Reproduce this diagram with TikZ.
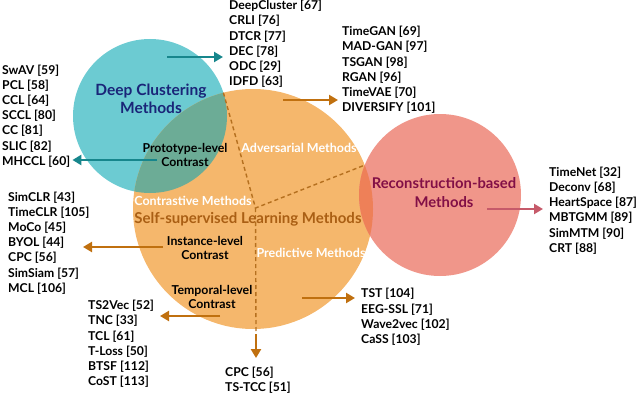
\documentclass[tikz,border=0pt]{standalone}
\usepackage{fontspec}
\setmainfont{Lato}
\usepackage{tikz}
\usepackage{xcolor}
\usetikzlibrary{arrows.meta,positioning}
\definecolor{dcfill}{HTML}{6CCBD2}
\definecolor{sslfill}{HTML}{F5B76C}
\definecolor{recfill}{HTML}{F0968A}
\definecolor{dcssl}{HTML}{6CAC96}
\definecolor{sslrec}{HTML}{EE8058}
\definecolor{dcline}{HTML}{17868C}
\definecolor{sslline}{HTML}{C0700F}
\definecolor{recline}{HTML}{C65A6A}
\definecolor{guidecol}{HTML}{B5701F}
\definecolor{dctext}{HTML}{1A2578}
\definecolor{ssltext}{HTML}{AA5F14}
\definecolor{rectext}{HTML}{820F46}

\begin{document}
\begin{tikzpicture}[x=1pt,y=-1pt,>={Triangle[length=9pt,width=10pt]},
    blob/.style={circle,inner sep=0pt},
    head/.style={align=center,inner sep=0pt,font=\bfseries\fontsize{15.5}{17.5}\selectfont},
    tag/.style={align=center,inner sep=0pt,font=\bfseries\fontsize{12.3}{14.7}\selectfont},
    sub/.style={inner sep=0pt,text=white,font=\bfseries\fontsize{12.5}{14}\selectfont},
    lst/.style={anchor=west,align=left,inner sep=0pt,font=\bfseries\fontsize{12.2}{15.2}\selectfont},
    guide/.style={draw=guidecol,line width=1.4pt,dash pattern=on 4pt off 3pt},
    link/.style={->,line width=2.5pt}]
    \useasboundingbox (0,0) rectangle (640,396);
    % circles
    \node[blob,fill=dcfill,minimum size=154pt] (dc) at (150,116) {};
    \node[blob,fill=sslfill,minimum size=240pt] (ssl) at (253,209) {};
    \node[blob,fill=recfill,minimum size=162pt] (rec) at (440,195) {};
    \begin{scope}
      \clip (dc.center) circle[radius=77pt];
      \fill[dcssl] (ssl.center) circle[radius=120pt];
    \end{scope}
    \begin{scope}
      \clip (rec.center) circle[radius=81pt];
      \fill[sslrec] (ssl.center) circle[radius=120pt];
    \end{scope}
    % split of the big circle
    \coordinate (cut) at (255.5,208);
    \coordinate (cutTop) at (223.4,92.7);
    \coordinate (cutRight) at (364.7,165.1);
    \coordinate (cutDown) at (256,331);
    \draw[guide] (cutTop) -- (cut) -- (cutRight);
    \draw[guide] (cut) -- (cutDown);
    % labels
    \node[head,text=dctext] (dcName) at (151,99) {Deep Clustering\\Methods};
    \node[head,text=rectext,font=\bfseries\fontsize{14.8}{19}\selectfont] (recName) at (444,193) {Reconstruction-based\\Methods};
    \node[head,text=ssltext,font=\bfseries\fontsize{15}{17}\selectfont] (sslName) at (248,219) {Self-supervised Learning Methods};
    \node[sub] (adv) at (299,148) {Adversarial Methods};
    \node[sub] (con) at (193,201) {Contrastive Methods};
    \node[sub] (pre) at (311,253) {Predictive Methods};
    \node[tag] (proto) at (185,155) {Prototype-level\\Contrast};
    \node[tag] (inst) at (205,248) {Instance-level\\Contrast};
    \node[tag] (temp) at (212,297) {Temporal-level\\Contrast};
    % method lists
    \node[lst] (dcList) at (229,44) {DeepCluster [67]\\CRLI [76]\\DTCR [77]\\DEC [78]\\ODC [29]\\IDFD [63]};
    \node[lst] (advList) at (342,70) {TimeGAN [69]\\MAD-GAN [97]\\TSGAN [98]\\RGAN [96]\\TimeVAE [70]\\DIVERSIFY [101]};
    \node[lst] (protoList) at (2,116) {SwAV [59]\\PCL [58]\\CCL [64]\\SCCL [80]\\CC [81]\\SLIC [82]\\MHCCL [60]};
    \node[lst] (instList) at (8,243) {SimCLR [43]\\TimeCLR [105]\\MoCo [45]\\BYOL [44]\\CPC [56]\\SimSiam [57]\\MCL [106]};
    \node[lst] (tempList) at (88,344) {TS2Vec [52]\\TNC [33]\\TCL [61]\\T-Loss [50]\\BTSF [112]\\CoST [113]};
    \node[lst] (preDown) at (225,380.5) {CPC [56]\\TS-TCC [51]};
    \node[lst] (preList) at (361,317) {TST [104]\\EEG-SSL [71]\\Wave2vec [102]\\CaSS [103]};
    \node[lst] (recList) at (549,210.5) {TimeNet [32]\\Deconv [68]\\HeartSpace [87]\\MBTGMM [89]\\SimMTM [90]\\CRT [88]};
    % arrows
    \coordinate (dcFrom) at (167,57);
    \coordinate (advFrom) at (283,100);
    \coordinate (protoFrom) at (157,160);
    \coordinate (instFrom) at (163,247);
    \coordinate (instTip) at (83,247);
    \coordinate (tempFrom) at (220,316);
    \coordinate (tempTip) at (160,316);
    \coordinate (downFrom) at (256,334);
    \coordinate (preFrom) at (302,298);
    \coordinate (recFrom) at (487,209);
    \draw[link,dcline] (dcFrom) -- ([xshift=-6pt]dcFrom -| dcList.west);
    \draw[link,sslline] (advFrom) -- ([xshift=-4pt]advFrom -| advList.west);
    \draw[link,dcline] (protoFrom) -- ([xshift=2pt]protoFrom -| protoList.east);
    \draw[link,sslline] (instFrom) -- (instTip);
    \draw[link,sslline] (tempFrom) -- (tempTip);
    \draw[link,sslline] (downFrom) -- ([yshift=9pt]downFrom |- preDown.north);
    \draw[link,sslline] (preFrom) -- ([xshift=-6pt]preFrom -| preList.west);
    \draw[link,recline] (recFrom) -- ([xshift=-6pt]recFrom -| recList.west);
\end{tikzpicture}
\end{document}
